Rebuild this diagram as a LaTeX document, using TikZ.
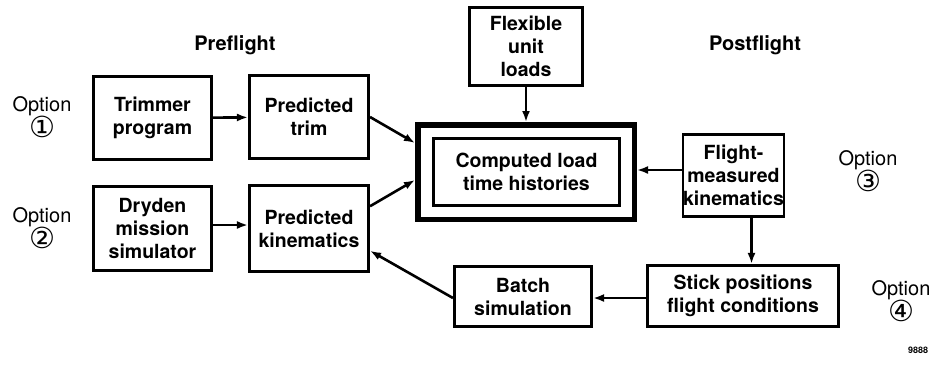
\documentclass[tikz,border=0pt]{standalone}
\usepackage{fontspec}
\setmainfont{TeX Gyre Heros}
\newfontfamily\circfont{DejaVu Sans}
\usepackage{tikz}
\usetikzlibrary {arrows.meta, calc}

\begin{document}
\begin{tikzpicture} [x = 1pt, y = -1pt]
        %style
        \tikzset{block/.style = {shape=rectangle, draw, line width=2.6pt, align=center, font=\fontsize{19.5}{23}\selectfont\bfseries, inner sep=0pt}}
        \tikzset{heavy/.style = {shape=rectangle, draw, line width=5.5pt, inner sep=0pt, minimum width=216.5pt, minimum height=94.5pt}}
        \tikzset{label/.style = {align=center, font=\fontsize{20}{24}\selectfont}}
        \tikzset{arr/.style = {line width=2.6pt, -{Latex[length=11pt, width=8pt]}}}
        \newcommand{\optnum}[1]{{\circfont\fontsize{29}{24}\selectfont #1}}
        \useasboundingbox (0,0) rectangle (934,369);
        \node            (pre)     at  (235,45)  {\fontsize{20}{24}\selectfont\bfseries Preflight};
        \node            (post)    at  (755,45)  {\fontsize{20}{24}\selectfont\bfseries Postflight};
        \node[block, minimum width=118.5pt, minimum height=83.5pt] (trimmer) at (152.5,118)  {Trimmer\\program};
        \node[block, minimum width=119.5pt, minimum height=83.5pt] (ptrim)   at (309,117)    {Predicted\\trim};
        \node[block, minimum width=118.5pt, minimum height=84.5pt] (dryden)  at (152.5,228.5) {Dryden\\mission\\simulator};
        \node[block, minimum width=119.5pt, minimum height=86.5pt] (pkin)    at (309,228.5)  {Predicted\\kinematics};
        \node[block, minimum width=113.5pt, minimum height=78.5pt] (flex)    at (526,46.5)   {Flexible\\unit\\loads};
        \node[heavy]                                               (outer)   at (526,172)    {};
        \node[block, minimum width=186.5pt, minimum height=67.5pt] (inner)   at (526.5,172)  {Computed load\\time histories};
        \node[block, minimum width=100.5pt, minimum height=82.5pt] (fmk)     at (733.5,175.5) {Flight-\\measured\\kinematics};
        \node[block, minimum width=191.5pt, minimum height=61.5pt] (stick)   at (743,296)    {Stick positions\\flight conditions};
        \node[block, minimum width=137.5pt, minimum height=60.5pt] (batch)   at (523,296.5)  {Batch\\simulation};
        \node[label] (opt1) at (42,117)  {Option\\[-1pt]\optnum{①}};
        \node[label] (opt2) at (42,228)  {Option\\[-1pt]\optnum{②}};
        \node[label] (opt3) at (868,171) {Option\\[-1pt]\optnum{③}};
        \node[label] (opt4) at (901,301) {Option\\[-1pt]\optnum{④}};
        \node            (num)     at  (918,350) {\fontsize{9}{10}\selectfont\bfseries 9888};
        \draw [arr] (trimmer) to (ptrim);
        \draw [arr] (dryden.east |- 0,225) to (pkin.west |- 0,225);
        \draw [arr] (ptrim.east) to ($(outer.north west)!0.21!(outer.south west)$);
        \draw [arr] ($(pkin.north east)!0.25!(pkin.south east)$) to ($(outer.north west)!0.58!(outer.south west)$);
        \draw [arr] (flex) to (outer);
        \draw [arr] (fmk.west |- 0,170) to (outer.east |- 0,170);
        \draw [arr] ([xshift=18pt]fmk.south) to ([xshift=18pt]fmk.south |- stick.north);
        \draw [arr] (stick.west |- 0,298) to (batch.east |- 0,298);
        \draw [arr] (batch.west |- 0,298) to ($(pkin.north east)!0.75!(pkin.south east)$);
\end{tikzpicture}
\end{document}
